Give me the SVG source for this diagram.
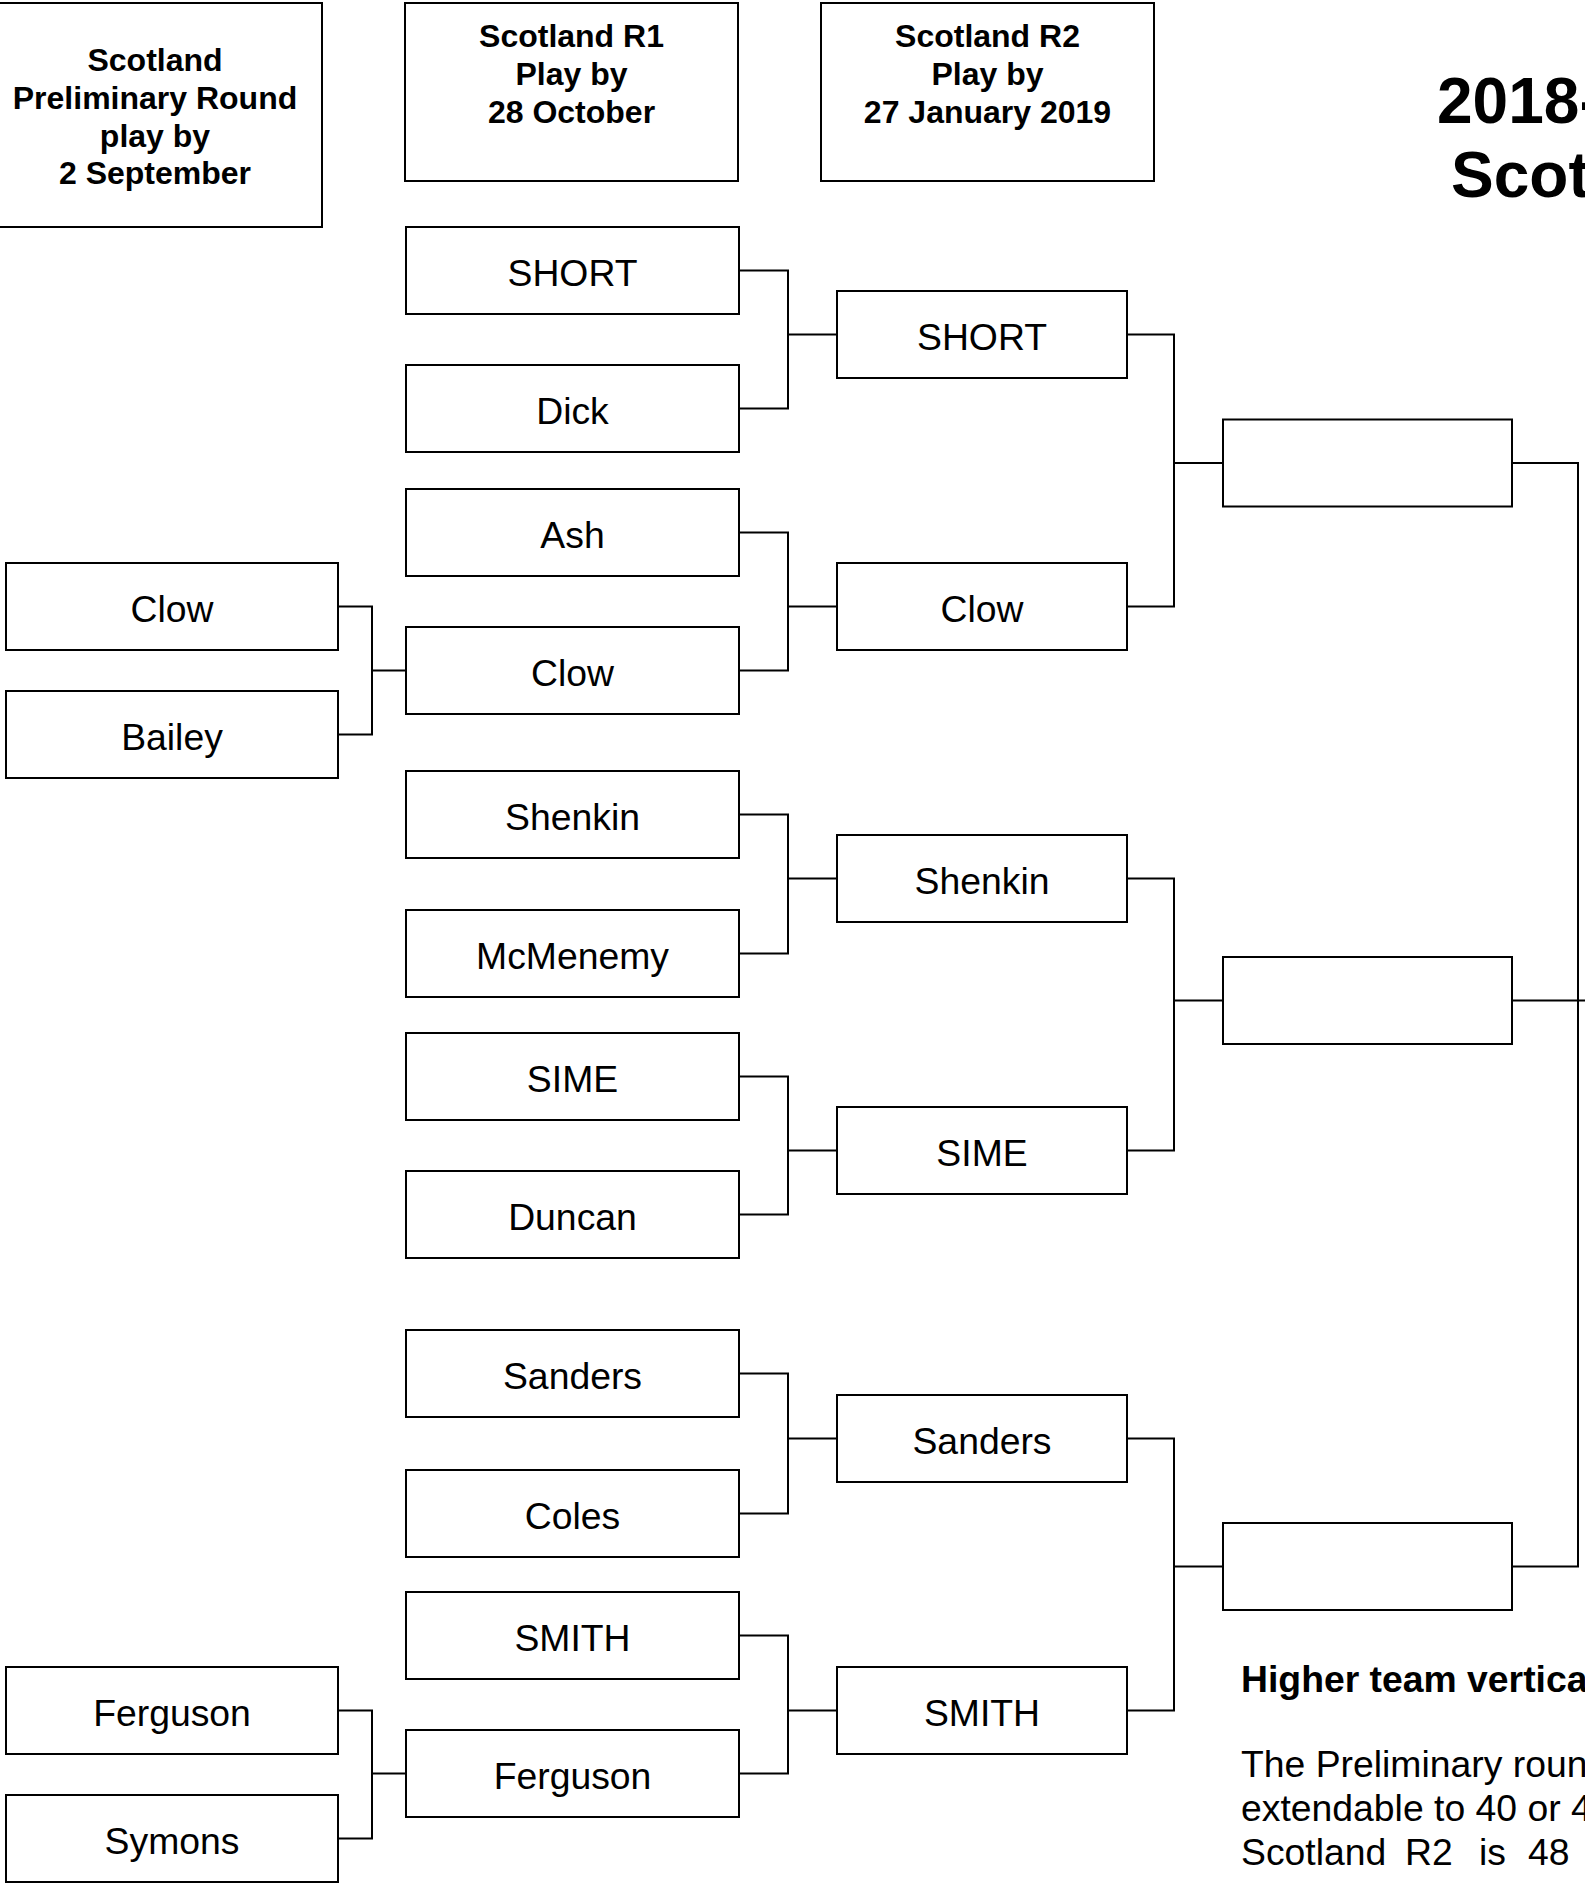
<svg xmlns="http://www.w3.org/2000/svg" width="1585" height="1883" viewBox="0 0 1585 1883">
<style>
.box{fill:#fff;stroke:#000;stroke-width:2}
.c{fill:none;stroke:#000;stroke-width:2}
text{font-family:"Liberation Sans",Arial,sans-serif;fill:#000}
.t{font-size:37.33px;text-anchor:middle}
.h{font-size:32px;font-weight:bold;text-anchor:middle}
.title{font-size:64px;font-weight:bold}
.note{font-size:37.33px}
</style>
<rect width="1585" height="1883" fill="#fff"/>
<g id="connectors">
<path class="c" d="M338 606.5H372V734.5H338M372 670.5H406"/>
<path class="c" d="M338 1710.5H372V1838.5H338M372 1773.5H406"/>
<path class="c" d="M739 270.5H788V408.5H739M788 334.5H837"/>
<path class="c" d="M739 532.5H788V670.5H739M788 606.5H837"/>
<path class="c" d="M739 814.5H788V953.5H739M788 878.5H837"/>
<path class="c" d="M739 1076.5H788V1214.5H739M788 1150.5H837"/>
<path class="c" d="M739 1373.5H788V1513.5H739M788 1438.5H837"/>
<path class="c" d="M739 1635.5H788V1773.5H739M788 1710.5H837"/>
<path class="c" d="M1127 334.5H1174V606.5H1127M1174 463H1223"/>
<path class="c" d="M1127 878.5H1174V1150.5H1127M1174 1000.5H1223"/>
<path class="c" d="M1127 1438.5H1174V1710.5H1127M1174 1566.5H1223"/>
<path class="c" d="M1512 463H1578V1566.5H1512M1512 1000.5H1590"/>
</g>
<g id="hdr-prelim"><rect class="box" x="-12" y="3" width="334" height="224"/>
<text class="h" x="155" y="71">Scotland</text><text class="h" x="155" y="109">Preliminary Round</text><text class="h" x="155" y="147">play by</text><text class="h" x="155" y="184">2 September</text></g>
<g id="hdr-r1"><rect class="box" x="405" y="3" width="333" height="178"/>
<text class="h" x="571.5" y="47">Scotland R1</text><text class="h" x="571.5" y="85">Play by</text><text class="h" x="571.5" y="123">28 October</text></g>
<g id="hdr-r2"><rect class="box" x="821" y="3" width="333" height="178"/>
<text class="h" x="987.5" y="47">Scotland R2</text><text class="h" x="987.5" y="85">Play by</text><text class="h" x="987.5" y="123">27 January 2019</text></g>
<g id="title"><text class="title" x="1437" y="123">2018-</text><text class="title" x="1451" y="197">Scot</text></g>
<g id="p-clow"><rect class="box" x="6" y="563" width="332" height="87"/><text class="t" x="172" y="621.5">Clow</text></g>
<g id="p-bailey"><rect class="box" x="6" y="691" width="332" height="87"/><text class="t" x="172" y="749.5">Bailey</text></g>
<g id="p-ferguson"><rect class="box" x="6" y="1667" width="332" height="87"/><text class="t" x="172" y="1725.5">Ferguson</text></g>
<g id="p-symons"><rect class="box" x="6" y="1795" width="332" height="87"/><text class="t" x="172" y="1853.5">Symons</text></g>
<g id="r1-short"><rect class="box" x="406" y="227" width="333" height="87"/><text class="t" x="572.5" y="285.5">SHORT</text></g>
<g id="r1-dick"><rect class="box" x="406" y="365" width="333" height="87"/><text class="t" x="572.5" y="423.5">Dick</text></g>
<g id="r1-ash"><rect class="box" x="406" y="489" width="333" height="87"/><text class="t" x="572.5" y="547.5">Ash</text></g>
<g id="r1-clow"><rect class="box" x="406" y="627" width="333" height="87"/><text class="t" x="572.5" y="685.5">Clow</text></g>
<g id="r1-shenkin"><rect class="box" x="406" y="771" width="333" height="87"/><text class="t" x="572.5" y="829.5">Shenkin</text></g>
<g id="r1-mcmenemy"><rect class="box" x="406" y="910" width="333" height="87"/><text class="t" x="572.5" y="968.5">McMenemy</text></g>
<g id="r1-sime"><rect class="box" x="406" y="1033" width="333" height="87"/><text class="t" x="572.5" y="1091.5">SIME</text></g>
<g id="r1-duncan"><rect class="box" x="406" y="1171" width="333" height="87"/><text class="t" x="572.5" y="1229.5">Duncan</text></g>
<g id="r1-sanders"><rect class="box" x="406" y="1330" width="333" height="87"/><text class="t" x="572.5" y="1388.5">Sanders</text></g>
<g id="r1-coles"><rect class="box" x="406" y="1470" width="333" height="87"/><text class="t" x="572.5" y="1528.5">Coles</text></g>
<g id="r1-smith"><rect class="box" x="406" y="1592" width="333" height="87"/><text class="t" x="572.5" y="1650.5">SMITH</text></g>
<g id="r1-ferguson"><rect class="box" x="406" y="1730" width="333" height="87"/><text class="t" x="572.5" y="1788.5">Ferguson</text></g>
<g id="r2-short"><rect class="box" x="837" y="291" width="290" height="87"/><text class="t" x="982" y="349.5">SHORT</text></g>
<g id="r2-clow"><rect class="box" x="837" y="563" width="290" height="87"/><text class="t" x="982" y="621.5">Clow</text></g>
<g id="r2-shenkin"><rect class="box" x="837" y="835" width="290" height="87"/><text class="t" x="982" y="893.5">Shenkin</text></g>
<g id="r2-sime"><rect class="box" x="837" y="1107" width="290" height="87"/><text class="t" x="982" y="1165.5">SIME</text></g>
<g id="r2-sanders"><rect class="box" x="837" y="1395" width="290" height="87"/><text class="t" x="982" y="1453.5">Sanders</text></g>
<g id="r2-smith"><rect class="box" x="837" y="1667" width="290" height="87"/><text class="t" x="982" y="1725.5">SMITH</text></g>
<g id="r3-a"><rect class="box" x="1223" y="419.5" width="289" height="87"/></g>
<g id="r3-b"><rect class="box" x="1223" y="957" width="289" height="87"/></g>
<g id="r3-c"><rect class="box" x="1223" y="1523" width="289" height="87"/></g>
<g id="notes">
<text class="note" x="1241" y="1692" font-weight="bold">Higher team vertica</text>
<text class="note" x="1241" y="1777">The Preliminary roun</text>
<text class="note" x="1241" y="1821">extendable to 40 or 4</text>
<text class="note" y="1865"><tspan x="1241">Scotland</tspan><tspan x="1405">R2</tspan><tspan x="1479">is</tspan><tspan x="1528">48</tspan></text>
</g>
</svg>
